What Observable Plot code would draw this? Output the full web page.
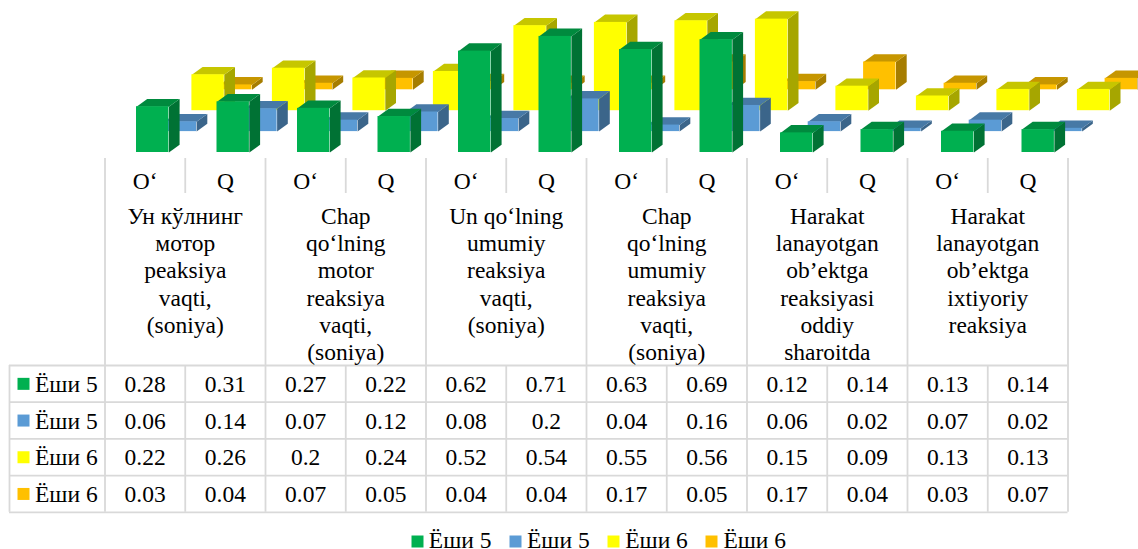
<!DOCTYPE html>
<html>
<head>
<meta charset="utf-8">
<script src="https://cdn.jsdelivr.net/npm/d3@7"></script>
<script src="https://cdn.jsdelivr.net/npm/@observablehq/plot@0.6"></script>
<style>
html,body{margin:0;padding:0;background:#fff;overflow:hidden}
#c svg{display:block}
</style>
</head>
<body>
<div id="c"></div>
<script>
// ---- data ----
const seriesNames = ["Ёши 5","Ёши 5","Ёши 6","Ёши 6"];
const greenValues  = [0.28,0.31,0.27,0.22,0.62,0.71,0.63,0.69,0.12,0.14,0.13,0.14];
const blueValues   = [0.06,0.14,0.07,0.12,0.08,0.2,0.04,0.16,0.06,0.02,0.07,0.02];
const yellowValues = [0.22,0.26,0.2,0.24,0.52,0.54,0.55,0.56,0.15,0.09,0.13,0.13];
const orangeValues = [0.03,0.04,0.07,0.05,0.04,0.04,0.17,0.05,0.17,0.04,0.03,0.07];
const subLabels = ["O‘","Q"];
const groupLabels = [
  "Ун кўлнинг\nмотор\npeaksiya\nvaqti,\n(soniya)",
  "Chap\nqo‘lning\nmotor\nreaksiya\nvaqti,\n(soniya)",
  "Un qo‘lning\numumiy\nreaksiya\nvaqti,\n(soniya)",
  "Chap\nqo‘lning\numumiy\nreaksiya\nvaqti,\n(soniya)",
  "Harakat\nlanayotgan\nob’ektga\nreaksiyasi\noddiy\nsharoitda",
  "Harakat\nlanayotgan\nob’ektga\nixtiyoriy\nreaksiya"
];

// ---- styles and layout ----
const allValues = [greenValues, blueValues, yellowValues, orangeValues];
const front = ["#00B050","#5B9BD5","#FFFF00","#FFC000"];
const topC  = ["#008A3E","#4779A6","#C6C600","#C69600"];
const sideC = ["#007234","#3B658A","#A6A600","#A67D00"];
const W = 1138, H1 = 155, H2 = 394;
const baseY = 152, unitPx = 163.5, slotPx = 80.5, barLeft = 136;
const barW = 32.4 / slotPx, depthX = 10.7 / slotPx, depthY = 7.8 / unitPx;
const stepDx = 27.7, stepDy = -20.9;
const font = "'Liberation Serif','Times New Roman',serif", fs = 23.5;

const marks3d = [];
for (let s = 3; s >= 0; s--) {
  const rows = allValues[s].map((v, i) => ({i, v}));
  const off = {dx: s * stepDx, dy: s * stepDy};
  const side = rows.flatMap(({i, v}) => {
    const r = i + barW;
    return [[r,0],[r,v],[r+depthX,v+depthY],[r+depthX,depthY]].map(([x,y]) => ({id:i,x,y}));
  });
  const top = rows.flatMap(({i, v}) => {
    const r = i + barW;
    return [[i,v],[r,v],[r+depthX,v+depthY],[i+depthX,v+depthY]].map(([x,y]) => ({id:i,x,y}));
  });
  marks3d.push(
    Plot.line(side, {x:"x", y:"y", z:"id", fill:sideC[s], stroke:"none", ...off}),
    Plot.line(top,  {x:"x", y:"y", z:"id", fill:topC[s],  stroke:"none", ...off}),
    Plot.rect(rows, {x1:d=>d.i, x2:d=>d.i+barW, y1:()=>0, y2:d=>d.v, fill:front[s], inset:0, ...off})
  );
}
const chart = Plot.plot({
  width: W, height: H1,
  marginLeft: barLeft, marginRight: W - (barLeft + 12*slotPx), marginTop: 0, marginBottom: H1 - baseY,
  x: {domain:[0,12], axis:null},
  y: {domain:[0, baseY/unitPx], axis:null},
  marks: marks3d
});

// table plot: x in column units, y in row units
const colLeft = 104.5, colPx = 80.25, rowTop = 365, rowPx = 36.7;
const colX = px => (px - colLeft) / colPx;
const rowY = py => (py - rowTop) / rowPx;
const grid = "#D9D9D9", gw = 1.8;
const cols = d3.range(13), rowsIdx = d3.range(5);
const cells = allValues.flatMap((vals, r) => vals.map((v, c) => ({c: c + 0.5, r: r + 0.5, t: String(v)})));
const subs = d3.range(12).map(c => ({c: c + 0.5, t: subLabels[c % 2]}));
const groups = groupLabels.map((t, g) => ({c: 2*g + 1, t}));
const stub = seriesNames.map((t, r) => ({r: r + 0.5, t, color: front[r]}));
const legendItems = seriesNames.map((t, k) => ({t, color: front[k], sw: colX(417 + k*98), tx: colX(428.3 + k*98.2)}));
const textOpts = {fontFamily: font, fontSize: fs, fill:"#000"};

const table = Plot.plot({
  width: W, height: H2,
  marginLeft: colLeft, marginRight: W - (colLeft + 12*colPx), marginTop: 0, marginBottom: 0,
  x: {domain:[0,12], axis:null},
  y: {domain:[rowY(H1), rowY(H1+H2)], range:[0,H2], axis:null},
  marks: [
    Plot.ruleX(cols.filter(c => c % 2 == 1), {x:d=>d, y1:()=>rowY(158), y2:()=>rowY(193), stroke:grid, strokeWidth:gw}),
    Plot.ruleX(cols.filter(c => c % 2 == 0), {x:d=>d, y1:()=>rowY(158), y2:()=>0, stroke:grid, strokeWidth:gw}),
    Plot.ruleX(cols, {x:d=>d, y1:()=>0, y2:()=>4, stroke:grid, strokeWidth:gw}),
    Plot.ruleX([colX(9)], {x:d=>d, y1:()=>0, y2:()=>4, stroke:grid, strokeWidth:gw}),
    Plot.ruleY(rowsIdx, {y:d=>d, x1:()=>colX(9), x2:()=>12, stroke:grid, strokeWidth:gw}),
    Plot.text(subs, {x:"c", y:()=>rowY(180.5), text:"t", ...textOpts}),
    Plot.text(groups, {x:"c", y:()=>rowY(204), text:"t", lineAnchor:"top", lineHeight:27.3/fs, ...textOpts}),
    Plot.text(cells, {x:"c", y:d=>d.r + 0.012, text:"t", ...textOpts}),
    Plot.dot(stub, {x:()=>colX(23), y:"r", r:6.77, symbol:"square", fill:"color", stroke:"none"}),
    Plot.text(stub, {x:()=>colX(34.5), y:d=>d.r + 0.012, text:"t", textAnchor:"start", ...textOpts}),
    Plot.dot(legendItems, {x:"sw", y:()=>rowY(541), r:6.77, symbol:"square", fill:"color", stroke:"none"}),
    Plot.text(legendItems, {x:"tx", y:()=>rowY(540), text:"t", textAnchor:"start", ...textOpts})
  ]
});
const host = document.getElementById("c");
host.append(chart, table);
</script>
</body>
</html>
